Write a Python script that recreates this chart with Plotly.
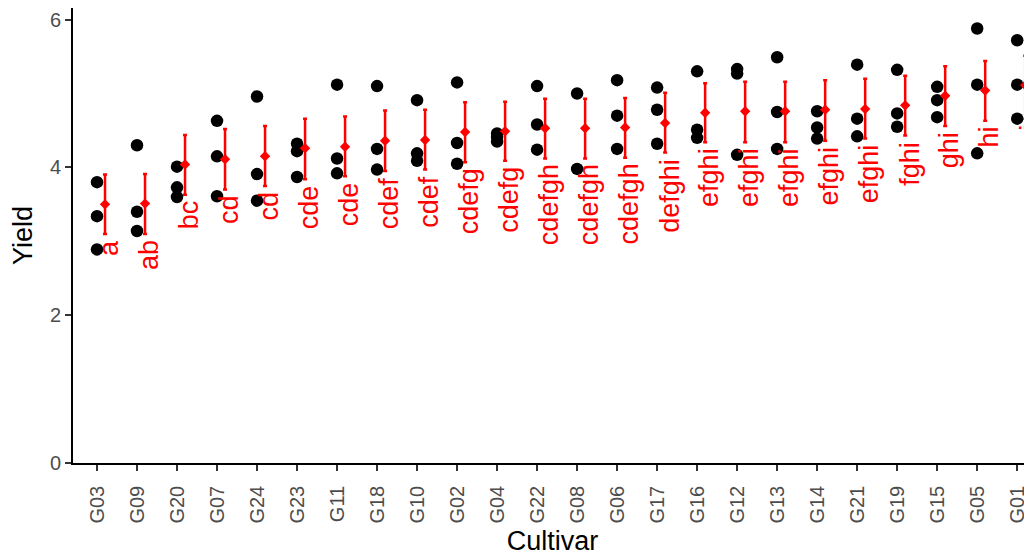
import plotly.graph_objects as go

cultivars = ["G03", "G09", "G20", "G07", "G24", "G23", "G11", "G18", "G10", "G02", "G04", "G22",
             "G08", "G06", "G17", "G16", "G12", "G13", "G14", "G21", "G19", "G15", "G05", "G01"]
rep_a = [3.80, 4.30, 4.01, 4.63, 4.96, 4.32, 5.12, 5.10, 4.91, 5.15, 4.46, 5.10,
         5.00, 5.18, 5.08, 5.30, 5.33, 5.49, 4.76, 5.39, 5.32, 5.09, 5.88, 5.72]
rep_b = [3.34, 3.40, 3.73, 4.15, 3.91, 4.22, 4.12, 4.25, 4.19, 4.33, 4.41, 4.58,
         3.98, 4.70, 4.78, 4.51, 5.27, 4.75, 4.54, 4.66, 4.73, 4.91, 5.12, 5.12]
rep_c = [2.89, 3.14, 3.60, 3.61, 3.55, 3.87, 3.92, 3.97, 4.09, 4.05, 4.35, 4.24,
         None, 4.25, 4.32, 4.40, 4.17, 4.25, 4.39, 4.42, 4.55, 4.68, 4.19, 4.66]
means = [3.50, 3.51, 4.04, 4.11, 4.15, 4.26, 4.28, 4.36, 4.37, 4.48, 4.49, 4.53,
         4.53, 4.54, 4.60, 4.74, 4.76, 4.76, 4.78, 4.79, 4.84, 4.97, 5.04, 5.11]
upper = [3.905, 3.91, 4.44, 4.52, 4.56, 4.66, 4.69, 4.77, 4.78, 4.88, 4.89, 4.93,
         4.93, 4.94, 5.01, 5.14, 5.16, 5.16, 5.18, 5.20, 5.24, 5.37, 5.44, 5.51]
lower = [3.10, 3.10, 3.63, 3.70, 3.75, 3.84, 3.88, 3.95, 3.97, 4.07, 4.09, 4.12,
         4.12, 4.13, 4.20, 4.34, 4.34, 4.34, 4.36, 4.39, 4.43, 4.56, 4.63, 4.66]
letters = ["a", "ab", "bc", "cd", "cd", "cde", "cde", "cdef", "cdef", "cdefg", "cdefg", "cdefgh",
           "cdefgh", "cdefgh", "defghi", "efghi", "efghi", "efghi", "efghi", "efghi", "fghi", "ghi", "hi", "i"]
y_ticks = [0, 2, 4, 6]

FONT = "Liberation Sans, Arial, sans-serif"
NUDGE = 0.2
pos = list(range(len(cultivars)))

fig = go.Figure()

px_, py_ = [], []
for i in pos:
    for rep in (rep_a, rep_b, rep_c):
        if rep[i] is not None:
            px_.append(i)
            py_.append(rep[i])
fig.add_trace(go.Scatter(x=px_, y=py_, mode="markers",
                         marker=dict(color="black", size=12.5, line=dict(width=0)),
                         showlegend=False, hoverinfo="skip", cliponaxis=False))

mx = [i + NUDGE for i in pos]
fig.add_trace(go.Scatter(
    x=mx, y=means, mode="markers",
    marker=dict(color="red", symbol="diamond", size=8, line=dict(width=0)),
    error_y=dict(type="data", symmetric=False,
                 array=[u - m for u, m in zip(upper, means)],
                 arrayminus=[m - l for m, l in zip(means, lower)],
                 color="red", thickness=2.5, width=2),
    showlegend=False, hoverinfo="skip"))

for i in pos:
    fig.add_annotation(x=i + NUDGE + 0.1, y=lower[i], text=letters[i], textangle=-90,
                       showarrow=False, xanchor="center", yanchor="top", yshift=-5,
                       font=dict(family=FONT, size=27, color="red"), borderpad=0)

# page body has an 8px margin, so the figure is drawn 8px right/down of the window origin
fig.update_layout(
    width=1024, height=548,
    margin=dict(l=65, r=0, t=0, b=93),
    paper_bgcolor="white", plot_bgcolor="white",
    font=dict(family=FONT),
    xaxis=dict(range=[-0.6, 23.37], tickmode="array", tickvals=pos, ticktext=cultivars,
               tickangle=-90, showgrid=False, zeroline=False,
               showline=True, linecolor="black", linewidth=1.6,
               ticks="outside", ticklen=6, tickwidth=1.6, tickcolor="#333333",
               ticklabelstandoff=7,
               tickfont=dict(family=FONT, size=20, color="#4d4d4d"),
               title=dict(text="Cultivar", font=dict(family=FONT, size=27, color="black"), standoff=8)),
    yaxis=dict(range=[0, 6.157], tickmode="array", tickvals=y_ticks,
               showgrid=False, zeroline=False,
               showline=True, linecolor="black", linewidth=1.6,
               ticks="outside", ticklen=6, tickwidth=1.6, tickcolor="#333333",
               tickfont=dict(family=FONT, size=20, color="#4d4d4d"),
               title=dict(text="Yield", font=dict(family=FONT, size=27, color="black"), standoff=12)),
)

fig.write_html("out.html")
